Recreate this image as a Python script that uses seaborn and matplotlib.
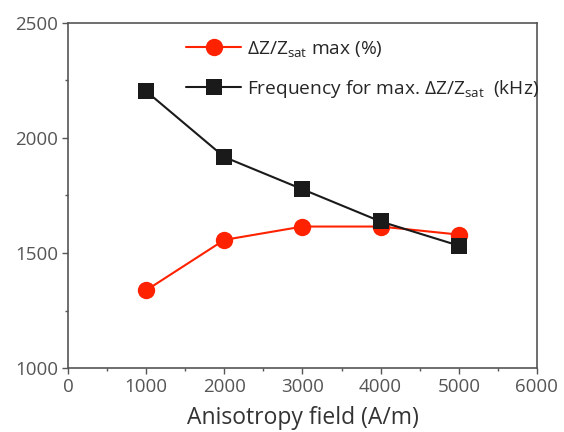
import matplotlib
matplotlib.use("Agg")
import matplotlib.pyplot as plt
import seaborn as sns
import pandas as pd

field = [1000, 2000, 3000, 4000, 5000]
gmi_max = [1338, 1557, 1615, 1615, 1580]
freq_max = [2203, 1917, 1777, 1637, 1532]

sns.set_theme(style="ticks")
plt.rcParams['font.family'] = ['Open Sans', 'DejaVu Sans']
plt.rcParams['mathtext.fontset'] = 'custom'
plt.rcParams['mathtext.rm'] = 'Open Sans'
plt.rcParams['mathtext.it'] = 'Open Sans'

df = pd.DataFrame({"field": field, "gmi": gmi_max, "freq": freq_max})

fig = plt.figure(figsize=(5.64, 4.32), dpi=100)
ax = fig.add_axes([0.1206, 0.148, 0.8314, 0.799])

sns.lineplot(data=df, x="field", y="gmi", ax=ax, color="#ff2200", marker="o",
             markersize=12.5, markeredgewidth=0, linewidth=1.5,
             label=r"$\Delta$Z/Z$_{\mathrm{sat}}$ max (%)")
sns.lineplot(data=df, x="field", y="freq", ax=ax, color="#1a1a1a", marker="s",
             markersize=11, markeredgewidth=0, linewidth=1.5,
             label=r"Frequency for max. $\Delta$Z/Z$_{\mathrm{sat}}$  (kHz)")

ax.set_xlim(0, 6000)
ax.set_ylim(1000, 2500)
ax.set_xticks(range(0, 6001, 1000))
ax.set_yticks(range(1000, 2501, 500))
ax.set_xticks(range(500, 6000, 1000), minor=True)
ax.set_yticks(range(1250, 2500, 500), minor=True)
ax.tick_params(axis="both", which="major", length=4, width=1, color="#555555",
               labelsize=13.5, labelcolor="#555555", pad=3)
ax.tick_params(axis="both", which="minor", length=2.5, width=1, color="#555555")
for s in ax.spines.values():
    s.set_color("#555555")
    s.set_linewidth(1.2)

ax.set_xlabel("Anisotropy field (A/m)", fontsize=16.5, color="#333333", labelpad=7)
ax.set_ylabel("")

ax.legend(loc="upper left", bbox_to_anchor=(0.24, 0.97), frameon=False,
          fontsize=13.8, handlelength=2.85, borderaxespad=0, borderpad=0.3,
          labelspacing=1.0, handletextpad=0.3)

fig.savefig("out.png", dpi=100)
